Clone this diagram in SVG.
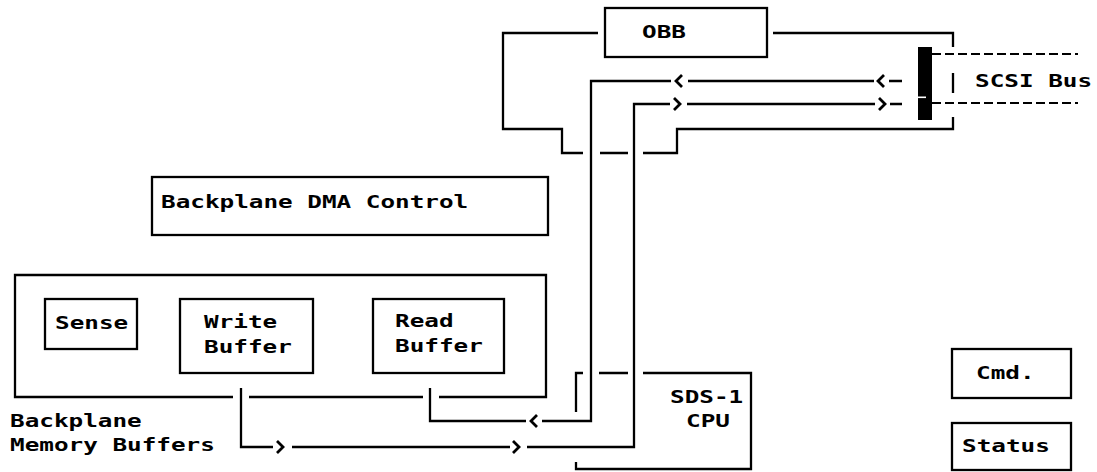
<svg xmlns="http://www.w3.org/2000/svg" width="1097" height="472" viewBox="0 0 1097 472">
  <style>
    .ln { fill: none; stroke: #000; stroke-width: 2.3; stroke-linejoin: miter; }
    .box { fill: none; stroke: #000; stroke-width: 2.3; }
    .dash { fill: none; stroke: #000; stroke-width: 2; stroke-dasharray: 9 4; }
    .chev { fill: none; stroke: #000; stroke-width: 2.8; stroke-linejoin: miter; }
    .lbl { font-family: "DejaVu Sans Mono", "Liberation Mono", monospace; font-size: 17px; font-weight: bold; fill: #000; }
  </style>
  <rect width="1097" height="472" fill="#fff"/>

  <!-- connectors -->
  <g id="connectors">
    <!-- OBB bus loop -->
    <path class="ln" d="M598,33 H503 V129 H562 V153 H583 M600,153 H628 M643,153 H677 V129 H953 V117"/>
    <path class="ln" d="M773,33 H953 V47 M953,73 V93"/>
    <!-- read path: SCSI to Read Buffer -->
    <path class="ln" d="M902,81 H889 M874,81 H688 M671,81 H591 V421 H542 M526,421 H430 V388"/>
    <path class="chev" d="M884,75 L878,81 L884,87 M682,75 L676,81 L682,87 M537,415 L531,421 L537,427"/>
    <!-- write path: Write Buffer to SCSI -->
    <path class="ln" d="M241,388 V447 H273 M292,447 H510 M527,447 H634 V104 H670 M687,104 H875 M890,104 H902"/>
    <path class="chev" d="M277,441 L283,447 L277,453 M513,441 L519,447 L513,453 M674,98 L680,104 L674,110 M879,98 L885,104 L879,110"/>
  </g>

  <g id="obb">
    <rect class="box" x="605" y="8" width="162" height="49"/>
    <text class="lbl" transform="matrix(1.43 0 0 1 642 38)">OBB</text>
  </g>

  <g id="scsi-bus">
    <rect x="918" y="47" width="14" height="73" fill="#000"/>
    <rect x="918" y="96.5" width="8" height="1.6" fill="#fff"/>
    <path class="dash" d="M932,54 H1078 M932,103 H1078"/>
    <text class="lbl" transform="matrix(1.43 0 0 1 975 87)">SCSI Bus</text>
  </g>

  <g id="dma-control">
    <rect class="box" x="152" y="177" width="396" height="58"/>
    <text class="lbl" transform="matrix(1.43 0 0 1 161 208)">Backplane DMA Control</text>
  </g>

  <g id="memory-buffers">
    <path class="box" d="M233,397 H15 V275 H546 V397 H439 M423,397 H249"/>
    <text class="lbl" transform="matrix(1.43 0 0 1 10 427)">Backplane</text>
    <text class="lbl" transform="matrix(1.43 0 0 1 10 451)">Memory Buffers</text>
  </g>

  <g id="sense">
    <rect class="box" x="45" y="299" width="92" height="50"/>
    <text class="lbl" transform="matrix(1.43 0 0 1 55 329)">Sense</text>
  </g>

  <g id="write-buffer">
    <rect class="box" x="180" y="299" width="133" height="74"/>
    <text class="lbl" transform="matrix(1.43 0 0 1 204 328)">Write</text>
    <text class="lbl" transform="matrix(1.43 0 0 1 204 353)">Buffer</text>
  </g>

  <g id="read-buffer">
    <rect class="box" x="373" y="299" width="131" height="74"/>
    <text class="lbl" transform="matrix(1.43 0 0 1 395 327)">Read</text>
    <text class="lbl" transform="matrix(1.43 0 0 1 395 352)">Buffer</text>
  </g>

  <g id="cpu">
    <path class="box" d="M583,373 H576 V412 M599,373 H628 M643,373 H751 V469 H576 V462"/>
    <text class="lbl" transform="matrix(1.43 0 0 1 670 403)">SDS-1</text>
    <text class="lbl" transform="matrix(1.43 0 0 1 686 427)">CPU</text>
  </g>

  <g id="cmd">
    <rect class="box" x="952" y="349" width="119" height="49"/>
    <text class="lbl" transform="matrix(1.43 0 0 1 976 379)">Cmd.</text>
  </g>

  <g id="status">
    <rect class="box" x="952" y="423" width="119" height="47"/>
    <text class="lbl" transform="matrix(1.43 0 0 1 962 452)">Status</text>
  </g>
</svg>
